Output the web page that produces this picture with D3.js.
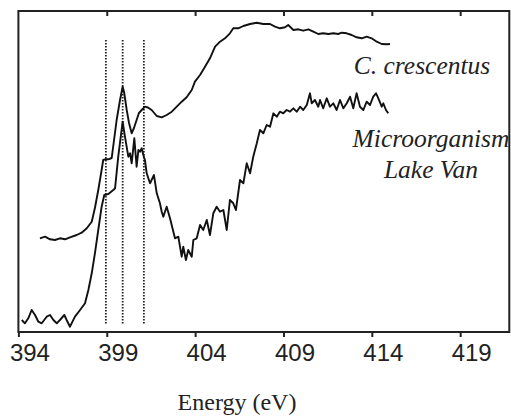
<!DOCTYPE html>
<html>
<head>
<meta charset="utf-8">
<script src="https://cdn.jsdelivr.net/npm/d3@7"></script>
<style>
  html, body { margin: 0; padding: 0; background: #fff; }
  svg { display: block; }
  .serif { font-family: "Liberation Serif", "Times New Roman", Times, serif; }
  .sans { font-family: "Liberation Sans", Arial, Helvetica, sans-serif; }
</style>
</head>
<body>
<script>
// ---- Data (energy in eV, normalized absorption, arbitrary units) ----
const crescentusE = [395.22,395.51,395.79,396.07,396.35,396.64,396.92,397.30,397.58,397.87,398.15,398.33,398.52,398.71,398.80,398.90,399.09,399.28,399.56,399.75,399.90,399.98,400.13,400.26,400.41,400.54,400.69,400.82,400.98,401.16,401.33,401.54,401.83,402.11,402.39,402.68,402.96,403.24,403.52,403.81,403.99,404.28,404.56,404.84,405.13,405.41,405.69,405.97,406.16,406.44,406.73,407.11,407.49,407.86,408.24,408.52,408.80,409.09,409.27,409.56,409.84,410.12,410.41,410.69,410.97,411.25,411.54,411.82,412.10,412.30,412.58,412.86,413.14,413.43,413.71,413.99,414.28,414.56,414.84,415.03];
const crescentusI = [0.937,0.953,0.927,0.920,0.937,0.927,0.947,0.970,0.993,1.037,1.103,1.240,1.420,1.620,1.720,1.727,1.727,1.740,2.120,2.320,2.453,2.400,2.220,2.090,1.987,2.040,2.120,2.190,2.220,2.253,2.245,2.220,2.160,2.147,2.170,2.203,2.253,2.303,2.347,2.420,2.503,2.570,2.653,2.737,2.853,2.903,2.937,2.987,3.037,3.037,3.060,3.080,3.093,3.080,3.080,3.053,3.037,3.047,3.070,3.020,3.027,3.013,3.027,3.003,2.980,2.987,2.980,2.987,2.980,2.993,2.987,2.970,2.947,2.937,2.953,2.937,2.903,2.880,2.877,2.880];

const lakeVanE = [394.19,394.37,394.56,394.75,394.94,395.13,395.32,395.60,395.79,395.98,396.17,396.35,396.60,396.73,396.92,397.20,397.49,397.77,397.96,398.15,398.33,398.52,398.71,398.86,399.09,399.37,399.47,399.65,399.90,400.03,400.22,400.32,400.41,400.56,400.69,400.79,400.88,400.98,401.07,401.16,401.26,401.45,401.67,401.83,402.01,402.11,402.20,402.39,402.58,402.86,403.05,403.24,403.33,403.48,403.61,403.81,403.90,404.09,404.28,404.46,404.66,404.84,405.03,405.22,405.41,405.60,405.79,405.97,406.16,406.31,406.54,406.73,406.92,407.11,407.29,407.49,407.67,407.86,408.05,408.24,408.43,408.62,408.80,408.99,409.18,409.37,409.56,409.75,409.94,410.12,410.32,410.50,410.60,410.78,410.97,411.07,411.25,411.45,411.63,411.82,412.01,412.20,412.39,412.58,412.77,412.95,413.14,413.33,413.52,413.71,413.90,414.08,414.24,414.37,414.56,414.65,414.80,414.93];
const lakeVanI = [0.120,0.087,0.137,0.220,0.170,0.103,0.087,0.153,0.170,0.120,0.087,0.120,0.170,0.120,0.053,0.153,0.220,0.287,0.420,0.587,0.787,1.020,1.253,1.370,1.380,1.420,1.437,1.753,2.103,1.953,1.753,1.787,1.687,1.937,1.653,1.820,1.803,1.837,1.770,1.720,1.587,1.487,1.570,1.387,1.287,1.203,1.153,1.253,1.137,0.937,0.953,0.753,0.853,0.720,0.820,0.753,0.920,0.937,1.070,1.020,1.120,0.970,1.187,1.253,1.203,1.220,1.020,1.320,1.287,1.220,1.520,1.487,1.687,1.587,1.753,1.887,2.020,1.987,2.070,2.053,2.187,2.153,2.203,2.187,2.220,2.203,2.237,2.203,2.253,2.220,2.270,2.387,2.287,2.320,2.253,2.320,2.237,2.337,2.253,2.287,2.220,2.320,2.237,2.287,2.353,2.237,2.387,2.253,2.220,2.303,2.270,2.353,2.387,2.337,2.253,2.287,2.220,2.187];

const peakMarkers = [398.95, 399.9, 401.1];
const xTicks = [394, 399, 404, 409, 414, 419];
const topTicks = [399, 404, 409, 414, 419];
const labelCrescentus = "C. crescentus";
const labelLakeVan = ["Microorganism", "Lake Van"];
const xTitle = "Energy (eV)";

// ---- Layout ----
const W = 511, H = 416;
const mLeft = 18.4, mRight = 509.3, mTop = 11, mBottom = 332;

const svg = d3.select("body").append("svg").attr("width", W).attr("height", H);

const x = d3.scaleLinear().domain([394, 421.78]).range([mLeft, mRight]);
const y = d3.scaleLinear().domain([0, 3.21]).range([mBottom, mTop]);

// dotted markers
svg.append("g").selectAll("line").data(peakMarkers).join("line")
  .attr("x1", d => x(d)).attr("x2", d => x(d))
  .attr("y1", 40).attr("y2", 325)
  .attr("stroke", "#222").attr("stroke-width", 1.8)
  .attr("stroke-dasharray", "1.5,1.5");

const line = d3.line().x(d => x(d[0])).y(d => y(d[1]));

svg.append("path")
  .datum(crescentusE.map((e, i) => [e, crescentusI[i]]))
  .attr("d", line).attr("fill", "none")
  .attr("stroke", "#111").attr("stroke-width", 1.9).attr("stroke-linejoin", "round");

svg.append("path")
  .datum(lakeVanE.map((e, i) => [e, lakeVanI[i]]))
  .attr("d", line).attr("fill", "none")
  .attr("stroke", "#111").attr("stroke-width", 1.9).attr("stroke-linejoin", "round");

// frame
svg.append("rect")
  .attr("x", mLeft).attr("y", mTop)
  .attr("width", mRight - mLeft).attr("height", mBottom - mTop)
  .attr("fill", "none").attr("stroke", "#222").attr("stroke-width", 2);

// bottom axis
const xAxis = d3.axisBottom(x).tickValues(xTicks).tickSize(5).tickPadding(8).tickFormat(d3.format("d"));
const gx = svg.append("g").attr("transform", `translate(0,${mBottom})`).call(xAxis);
gx.attr("font-family", null).attr("font-size", null);
gx.select(".domain").remove();
gx.selectAll(".tick line").attr("stroke", "#222").attr("stroke-width", 2);
gx.selectAll(".tick text")
  .attr("class", "sans")
  .attr("font-size", 24).attr("fill", "#222")
  .attr("dx", 11).attr("y", 12).attr("dy", "0.71em");

// top ticks (inward)
const xAxisTop = d3.axisTop(x).tickValues(topTicks).tickSize(-5).tickFormat("");
const gt = svg.append("g").attr("transform", `translate(0,${mTop})`).call(xAxisTop);
gt.select(".domain").remove();
gt.selectAll(".tick line").attr("stroke", "#222").attr("stroke-width", 2);

// axis title
svg.append("text")
  .attr("class", "serif")
  .attr("x", 237).attr("y", 410)
  .attr("text-anchor", "middle")
  .attr("font-size", 24).attr("fill", "#222")
  .text(xTitle);

// series labels
svg.append("text")
  .attr("class", "serif")
  .attr("x", 422).attr("y", 74)
  .attr("text-anchor", "middle")
  .attr("font-style", "italic")
  .attr("font-size", 25.5).attr("fill", "#222")
  .text(labelCrescentus);

svg.append("text")
  .attr("class", "serif")
  .attr("text-anchor", "middle")
  .attr("font-style", "italic")
  .attr("font-size", 25.5).attr("fill", "#222")
  .selectAll("tspan").data(labelLakeVan).join("tspan")
  .attr("x", 431).attr("y", (d, i) => 147 + i * 31)
  .text(d => d);
</script>
</body>
</html>
